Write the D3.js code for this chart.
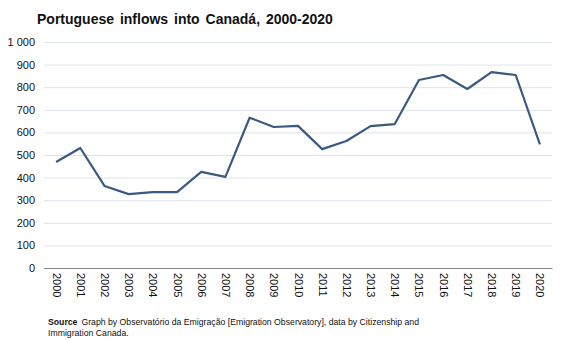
<!DOCTYPE html>
<html><head><meta charset="utf-8">
<script src="https://cdn.jsdelivr.net/npm/d3@7"></script>
<style>body{margin:0;background:#fff;font-family:Arial,"Liberation Sans",sans-serif}</style>
</head><body><svg id="c" width="567" height="340"></svg>
<script>
const years = ["2000","2001","2002","2003","2004","2005","2006","2007","2008","2009","2010","2011","2012","2013","2014","2015","2016","2017","2018","2019","2020"];
const inflows = [469,531,363,327,336,336,425,403,665,624,629,526,562,628,637,832,854,792,867,854,547];
const yTicks = [0,100,200,300,400,500,600,700,800,900,1000];

const svg = d3.select("#c");
const m = {l:44, r:15, t:42, b:72};
const W = 567, H = 340;
const x = d3.scalePoint().domain(years).range([m.l, W - m.r]).padding(0.5);
const y = d3.scaleLinear().domain([0,1000]).range([268, 42]);

svg.append("text").attr("x",37).attr("y",24).attr("font-size",14).attr("font-weight","bold")
  .attr("word-spacing","2px").attr("fill","#111").text("Portuguese inflows into Canadá, 2000-2020");

const gy = svg.append("g").attr("transform",`translate(${m.l},0)`)
  .call(d3.axisLeft(y).tickValues(yTicks).tickSize(-(W-m.r-m.l)).tickPadding(9)
  .tickFormat(d => d3.format(",")(d).replace(",", " ")));
gy.select(".domain").remove();
gy.selectAll(".tick line").attr("stroke","#dde3ea").attr("stroke-width",1);
gy.selectAll(".tick text").attr("font-size",11).attr("fill","#111").attr("font-family","Arial,'Liberation Sans',sans-serif");
gy.selectAll(".tick").filter(d=>d===0).select("line").attr("stroke","#888");

const gx = svg.append("g").attr("transform",`translate(0,${y(0)})`)
  .call(d3.axisBottom(x).tickSize(0).tickPadding(0));
gx.select(".domain").attr("stroke","#888");
gx.selectAll(".tick text").attr("font-size",11).attr("fill","#111")
  .attr("font-family","Arial,'Liberation Sans',sans-serif")
  .attr("text-anchor","start").attr("dy",null)
  .attr("transform","translate(-4,5) rotate(90)");

svg.append("path").datum(inflows)
  .attr("fill","none").attr("stroke","#3b5a82").attr("stroke-width",2.2).attr("stroke-linejoin","round")
  .attr("d", d3.line().x((d,i)=>x(years[i])).y(d=>y(d)));

const src = svg.append("text").attr("x",48).attr("y",325).attr("font-size",8.7).attr("fill","#111");
src.append("tspan").attr("font-weight","bold").text("Source");
src.append("tspan").attr("dx",4).text("Graph by Observatório da Emigração [Emigration Observatory], data by Citizenship and");
svg.append("text").attr("x",48).attr("y",336).attr("font-size",8.7).attr("fill","#111").text("Immigration Canada.");
</script></body></html>
